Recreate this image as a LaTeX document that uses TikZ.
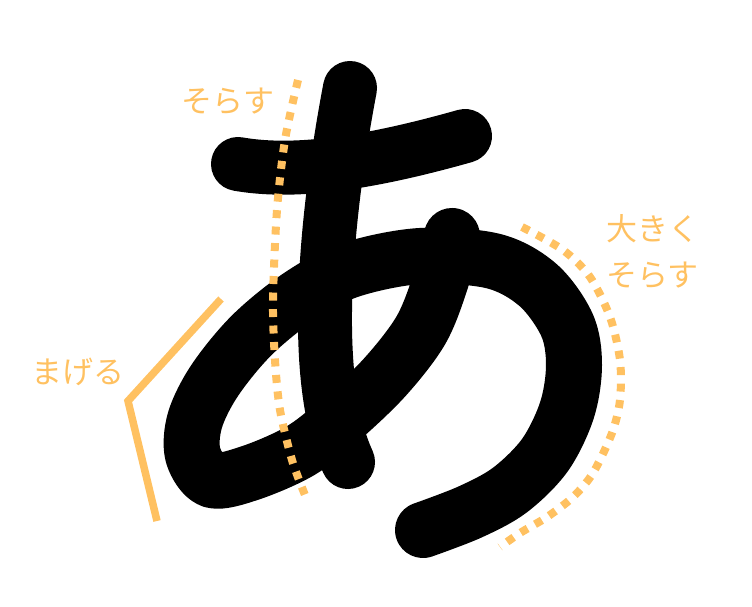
\documentclass[tikz,border=0pt]{standalone}
\usepackage{fontspec}
\newfontfamily\jpfont{Noto Sans CJK JP}
\definecolor{guide}{HTML}{FFC161}
\tikzset{
  brush/.style={line width=54pt, line cap=round, line join=round, black},
  guidedots/.style={line width=8pt, guide, dash pattern=on 8pt off 8.5pt},
  guideline/.style={line width=7.5pt, guide, line join=miter},
  lbl/.style={text=guide, font=\jpfont\fontsize{31}{46}\selectfont, inner sep=0pt, align=left}
}
\begin{document}
\begin{tikzpicture}[x=1pt,y=-1pt]
\useasboundingbox (0,0) rectangle (752,607);
% stroke 1: bar
\draw[brush] (238,164) .. controls (300,175) and (380,160) .. (465,136);
% stroke 2: vertical
\draw[brush] (350,88) .. controls (325,220) and (310,380) .. (348,462);
% stroke 3: loop
\draw[brush, line width=56pt] plot[smooth, tension=0.55] coordinates {(452,236) (441,280) (421,330) (385,377) (340,420) (300,451) (250,473) (212,480) (193,455) (195,420) (215,380) (252,335) (300,296) (350,270) (420,256) (493,261) (538,285) (567,325) (574,365) (567,410) (545,455) (510,490) (470,512) (423,530)};
% guides
\draw[guidedots] plot[smooth] coordinates {(298,80) (285,140) (277,210) (273,300) (275,360) (280,410) (292,460) (305,495)};
\draw[guidedots] plot[smooth] coordinates {(522,227) (563,250) (590,277) (610,317) (620,360) (620,400) (612,433) (593,473) (573,497) (547,517) (520,533) (500,547)};
\draw[guideline] (221,299) -- (128,401) -- (157,521);
% labels
\node[lbl] (l1) at (228,101) {そらす};
\node[lbl] (l2) at (653,252) {大きく\\そらす};
\node[lbl] (l3) at (78,372) {まげる};
\end{tikzpicture}
\end{document}
